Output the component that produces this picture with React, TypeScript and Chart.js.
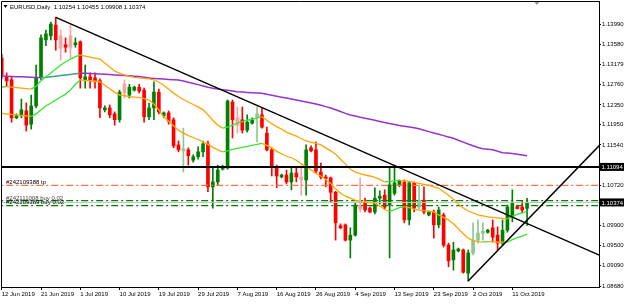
import React, { useEffect, useRef } from 'react';
import { Chart, registerables } from 'chart.js';

Chart.register(...registerables);

// ---------- data (EURUSD, Daily, bar 0 = 12 Jun 2019, broker feed with Sunday bars) ----------
const dateTickIndex = [0, 8, 16, 24, 32, 40, 48, 56, 64, 72, 80, 88, 96, 104];
const dateLabels = ['12 Jun 2019', '21 Jun 2019', '1 Jul 2019', '10 Jul 2019', '19 Jul 2019', '29 Jul 2019', '7 Aug 2019',
  '16 Aug 2019', '26 Aug 2019', '4 Sep 2019', '13 Sep 2019', '23 Sep 2019', '2 Oct 2019', '11 Oct 2019'];
const priceTicks = [1.1399, 1.1358, 1.13179, 1.1276, 1.1235, 1.1195, 1.1154, 1.1072, 1.099, 1.095, 1.0909, 1.0868];

const opens = [
  1.1330, 1.1292, 1.1286, 1.1209, 1.1213, 1.1223, 1.1196, 1.1233, 1.1292, 1.1367,
  1.1375, 1.1397, 1.1375, 1.1357, 1.1375, 1.1357, 1.1363, 1.1286, 1.1292, 1.1290,
  1.1284, 1.1225, 1.1229, 1.1217, 1.1205, 1.1277, 1.1255, 1.1265, 1.1271, 1.1265,
  1.1211, 1.1229, 1.1261, 1.1213, 1.1219, 1.1205, 1.1154, 1.1142, 1.1144, 1.1123,
  1.1130, 1.1140, 1.1156, 1.1069, 1.1079, 1.1105, 1.1107, 1.1241, 1.1209, 1.1205,
  1.1184, 1.1198, 1.1211, 1.1215, 1.1178, 1.1144, 1.1109, 1.1089, 1.1093, 1.1079,
  1.1097, 1.1089, 1.1083, 1.1148, 1.1144, 1.1099, 1.1089, 1.1087, 1.1058, 1.0990,
  1.0992, 1.0961, 1.0971, 1.1032, 1.1036, 1.1026, 1.1018, 1.1046, 1.1052, 1.1032,
  1.1056, 1.1073, 1.1079, 1.1002, 1.1077, 1.1028, 1.1042, 1.1012, 1.1018, 1.0992,
  1.1012, 1.0951, 1.0921, 1.0939, 1.0941, 1.0894, 1.0935, 1.0961, 1.0975, 1.0977,
  1.0986, 1.0971, 1.0955, 1.0981, 1.1008, 1.1029, 1.1028, 1.10254,
];
const highs = [
  1.1338, 1.1300, 1.1292, 1.1217, 1.1247, 1.1239, 1.1255, 1.1316, 1.1377, 1.1387,
  1.1403, 1.1413, 1.1387, 1.1371, 1.1397, 1.1371, 1.1365, 1.1316, 1.1300, 1.1300,
  1.1288, 1.1233, 1.1235, 1.1221, 1.1265, 1.1286, 1.1277, 1.1273, 1.1277, 1.1269,
  1.1239, 1.1282, 1.1267, 1.1221, 1.1223, 1.1209, 1.1162, 1.1188, 1.1148, 1.1134,
  1.1150, 1.1162, 1.1162, 1.1107, 1.1113, 1.1113, 1.1245, 1.1245, 1.1231, 1.1231,
  1.1215, 1.1209, 1.1231, 1.1229, 1.1190, 1.1148, 1.1113, 1.1095, 1.1103, 1.1107,
  1.1107, 1.1113, 1.1154, 1.1152, 1.1160, 1.1117, 1.1093, 1.1089, 1.1060, 1.0994,
  1.0994, 1.0986, 1.1036, 1.1087, 1.1046, 1.1028, 1.1067, 1.1061, 1.1063, 1.1109,
  1.1113, 1.1083, 1.1083, 1.1079, 1.1079, 1.1073, 1.1069, 1.1020, 1.1022, 1.1028,
  1.1016, 1.0955, 1.0957, 1.0945, 1.0943, 1.0941, 1.0996, 1.1002, 1.0996, 1.0983,
  1.1002, 1.0988, 1.1002, 1.1032, 1.1063, 1.1032, 1.1040, 1.10455,
];
const lows = [
  1.1288, 1.1273, 1.1200, 1.1207, 1.1209, 1.1182, 1.1186, 1.1229, 1.1286, 1.1355,
  1.1367, 1.1346, 1.1326, 1.1342, 1.1330, 1.1352, 1.1269, 1.1269, 1.1269, 1.1269,
  1.1209, 1.1221, 1.1209, 1.1194, 1.1200, 1.1249, 1.1249, 1.1263, 1.1259, 1.1200,
  1.1205, 1.1205, 1.1217, 1.1209, 1.1196, 1.1148, 1.1140, 1.1099, 1.1113, 1.1119,
  1.1125, 1.1130, 1.1059, 1.1026, 1.1073, 1.1103, 1.1105, 1.1168, 1.1178, 1.1178,
  1.1180, 1.1196, 1.1160, 1.1188, 1.1142, 1.1091, 1.1067, 1.1087, 1.1075, 1.1063,
  1.1079, 1.1052, 1.1052, 1.1140, 1.1097, 1.1085, 1.1069, 1.1038, 1.0961, 1.0984,
  1.0959, 1.0925, 1.0969, 1.1018, 1.1018, 1.1016, 1.1014, 1.1034, 1.1024, 1.0925,
  1.1052, 1.1069, 1.0996, 1.0992, 1.1018, 1.1024, 1.1014, 1.1010, 1.0965, 1.0986,
  1.0947, 1.0907, 1.0900, 1.0937, 1.0894, 1.0878, 1.0931, 1.0955, 1.0961, 1.0975,
  1.0957, 1.0941, 1.0951, 1.0977, 1.0998, 1.1024, 1.1016, 1.09908,
];
const closes = [
  1.1296, 1.1284, 1.1209, 1.1213, 1.1225, 1.1194, 1.1233, 1.1290, 1.1371, 1.1379,
  1.1399, 1.1367, 1.1350, 1.1352, 1.1352, 1.1361, 1.1290, 1.1292, 1.1286, 1.1282,
  1.1229, 1.1229, 1.1215, 1.1205, 1.1261, 1.1259, 1.1271, 1.1271, 1.1263, 1.1211,
  1.1229, 1.1261, 1.1221, 1.1219, 1.1202, 1.1152, 1.1144, 1.1146, 1.1132, 1.1130,
  1.1140, 1.1156, 1.1069, 1.1079, 1.1103, 1.1109, 1.1243, 1.1205, 1.1194, 1.1184,
  1.1200, 1.1205, 1.1217, 1.1190, 1.1144, 1.1109, 1.1091, 1.1093, 1.1079, 1.1097,
  1.1089, 1.1083, 1.1144, 1.1142, 1.1101, 1.1089, 1.1086, 1.1058, 1.0996, 1.0986,
  1.0961, 1.0971, 1.1032, 1.1024, 1.1022, 1.1018, 1.1046, 1.1050, 1.1028, 1.1073,
  1.1077, 1.1081, 1.1002, 1.1077, 1.1026, 1.1042, 1.1018, 1.1018, 1.0992, 1.1022,
  1.0951, 1.0919, 1.0941, 1.0943, 1.0896, 1.0935, 1.0961, 1.0975, 1.0979, 1.0981,
  1.0967, 1.0955, 1.0981, 1.1028, 1.1036, 1.1025, 1.1022, 1.10374,
];

// colour-changing moving averages (green while rising, orange while falling)
const upperMA = [
  1.1271, 1.1272, 1.1271, 1.1270, 1.1269, 1.1268, 1.1267, 1.1273, 1.1284, 1.1292,
  1.1300, 1.1308, 1.1316, 1.1322, 1.1328, 1.1333, 1.1336, 1.1334, 1.1332, 1.1330,
  1.1328, 1.1320, 1.1312, 1.1304, 1.1299, 1.1296, 1.1293, 1.1291, 1.1290, 1.1289,
  1.1288, 1.1286, 1.1281, 1.1275, 1.1267, 1.1259, 1.1252, 1.1246, 1.1241, 1.1236,
  1.1231, 1.1225, 1.1215, 1.1204, 1.1194, 1.1188, 1.1190, 1.1194, 1.1198, 1.1201,
  1.1204, 1.1206, 1.1209, 1.1211, 1.1204, 1.1197, 1.1191, 1.1186, 1.1180, 1.1176,
  1.1172, 1.1167, 1.1162, 1.1159, 1.1157, 1.1154, 1.1148, 1.1142, 1.1135, 1.1125,
  1.1115, 1.1105, 1.1099, 1.1096, 1.1093, 1.1091, 1.1088, 1.1084, 1.1079, 1.1080,
  1.1081, 1.1082, 1.1081, 1.1080, 1.1078, 1.1076, 1.1074, 1.1072, 1.1069, 1.1066,
  1.1059, 1.1052, 1.1044, 1.1034, 1.1026, 1.1020, 1.1016, 1.1012, 1.1010, 1.1008,
  1.1007, 1.1006, 1.1005, 1.1004, 1.1009, 1.1013, 1.1016, 1.1020,
];
const lowerMA = [
  1.1218, 1.1217, 1.1216, 1.1215, 1.1214, 1.1213, 1.1212, 1.1217, 1.1225, 1.1233,
  1.1239, 1.1245, 1.1251, 1.1257, 1.1265, 1.1277, 1.1286, 1.1285, 1.1284, 1.1283,
  1.1282, 1.1275, 1.1268, 1.1261, 1.1255, 1.1254, 1.1252, 1.1251, 1.1250, 1.1248,
  1.1245, 1.1237, 1.1225, 1.1211, 1.1202, 1.1193, 1.1184, 1.1178, 1.1173, 1.1169,
  1.1165, 1.1160, 1.1155, 1.1149, 1.1144, 1.1140, 1.1142, 1.1145, 1.1147, 1.1149,
  1.1151, 1.1153, 1.1155, 1.1157, 1.1153, 1.1148, 1.1141, 1.1136, 1.1131, 1.1128,
  1.1123, 1.1116, 1.1110, 1.1103, 1.1096, 1.1091, 1.1084, 1.1076, 1.1065, 1.1056,
  1.1050, 1.1046, 1.1042, 1.1039, 1.1038, 1.1037, 1.1036, 1.1030, 1.1023, 1.1019,
  1.1023, 1.1027, 1.1029, 1.1027, 1.1024, 1.1022, 1.1021, 1.1020, 1.1018, 1.1012,
  1.1007, 1.1002, 1.0994, 1.0984, 1.0974, 1.0965, 1.0960, 1.0958, 1.0957, 1.0958,
  1.0958, 1.0957, 1.0957, 1.0957, 1.0962, 1.0966, 1.0969, 1.0973,
];
// long moving average (purple while falling, teal while rising)
const longMA = [
  1.12936, 1.12932, 1.12928, 1.12924, 1.12920, 1.12916, 1.12912, 1.12908, 1.12906, 1.12910,
  1.12920, 1.12932, 1.12945, 1.12957, 1.12969, 1.12981, 1.12993, 1.12991, 1.12987, 1.12983,
  1.12977, 1.12971, 1.12965, 1.12959, 1.12953, 1.12947, 1.12941, 1.12934, 1.12926, 1.12912,
  1.12896, 1.12888, 1.12880, 1.12874, 1.12868, 1.12862, 1.12855, 1.12835, 1.12811, 1.12786,
  1.12762, 1.12734, 1.12707, 1.12687, 1.12673, 1.12659, 1.12647, 1.12632, 1.12618, 1.12612,
  1.12604, 1.12598, 1.12592, 1.12586, 1.12566, 1.12545, 1.12525, 1.12507, 1.12489, 1.12470,
  1.12450, 1.12430, 1.12409, 1.12389, 1.12369, 1.12343, 1.12316, 1.12288, 1.12253, 1.12217,
  1.12180, 1.12146, 1.12124, 1.12101, 1.12079, 1.12059, 1.12039, 1.12016, 1.11994, 1.11974,
  1.11953, 1.11935, 1.11919, 1.11903, 1.11887, 1.11866, 1.11838, 1.11809, 1.11781, 1.11755,
  1.11728, 1.11700, 1.11674, 1.11635, 1.11597, 1.11558, 1.11522, 1.11487, 1.11461, 1.11451,
  1.11441, 1.11412, 1.11382, 1.11376, 1.11368, 1.11353, 1.11337, 1.11321,
];

const downTrendX = [11, 122];
const downTrendY = [1.14126, 1.09294];
const upTrendX = [95, 122];
const upTrendY = [1.0878, 1.11558];
const levelPrice = 1.11094;
const orderPrices = [1.1072, 1.10409, 1.10311];
const orderLabels = ['#242109388 tp', '#242111008 buy 0.02', '#242109389 buy 0.02'];
const symbolTitle = 'EURUSD,Daily';

// ---------- styling ----------
const BULL = '#008000';
const BEAR = '#ff0000';
const BULL_LIGHT = '#8cc88c';
const BEAR_LIGHT = '#f7a3a3';
const lightBars = [12, 14, 25, 37, 48, 52, 61, 73, 85, 96, 97, 98];
const MA_UP = '#33e633';
const MA_DOWN = '#ffa500';
const LONG_DOWN = '#9932cc';
const LONG_UP = '#3f9f86';
const FONT = '"Liberation Sans", Arial, sans-serif';

const pts = (vals: number[]) => vals.map((v, i) => ({ x: i, y: v }));
const X_MIN = -0.15;
const X_MAX = 121.65;
const hline = (v: number) => [{ x: X_MIN - 2, y: v }, { x: X_MAX + 2, y: v }];

const extras = {
  id: 'mt4Extras',
  afterDatasetsDraw(chart: any) {
    const { ctx, chartArea: a, scales } = chart;
    const y = scales.y;
    const x = scales.x;
    ctx.save();
    // frame
    ctx.strokeStyle = '#000';
    ctx.lineWidth = 1;
    ctx.beginPath();
    ctx.moveTo(a.left + 0.5, a.bottom);
    ctx.lineTo(a.left + 0.5, a.top + 0.5);
    ctx.lineTo(a.right, a.top + 0.5);
    ctx.stroke();
    // order labels
    ctx.font = `6px ${FONT}`;
    ctx.textAlign = 'left';
    ctx.textBaseline = 'alphabetic';
    orderLabels.forEach((t, k) => {
      ctx.fillStyle = k === 1 ? '#444' : '#000';
      ctx.fillText(t, a.left + 5, y.getPixelForValue(orderPrices[k]) - 1.2);
    });
    // title
    const n = opens.length - 1;
    const title = `${symbolTitle}  ${opens[n].toFixed(5)} ${highs[n].toFixed(5)} ${lows[n].toFixed(5)} ${closes[n].toFixed(5)}`;
    ctx.fillStyle = '#000';
    ctx.beginPath();
    ctx.moveTo(a.left + 2.5, a.top + 4);
    ctx.lineTo(a.left + 6.5, a.top + 4);
    ctx.lineTo(a.left + 4.5, a.top + 7);
    ctx.closePath();
    ctx.fill();
    ctx.fillText(title, a.left + 9, a.top + 7.5);
    // chart shift marker
    const sx = x.getPixelForValue(opens.length + 1);
    ctx.fillStyle = '#999';
    ctx.beginPath();
    ctx.moveTo(sx - 2.5, a.top + 1);
    ctx.lineTo(sx + 2.5, a.top + 1);
    ctx.lineTo(sx, a.top + 4);
    ctx.closePath();
    ctx.fill();
    ctx.restore();
  },
  afterDraw(chart: any) {
    const { ctx, chartArea: a, scales } = chart;
    const y = scales.y;
    ctx.save();
    ctx.font = `6px ${FONT}`;
    ctx.textAlign = 'left';
    ctx.textBaseline = 'middle';
    [levelPrice, closes[closes.length - 1]].forEach((p) => {
      const py = y.getPixelForValue(p);
      ctx.fillStyle = '#000';
      ctx.fillRect(a.right + 1, py - 4, 24, 8);
      ctx.fillStyle = '#fff';
      ctx.fillText(p.toFixed(5), a.right + 2.5, py + 0.5);
    });
    ctx.restore();
  },
};

export default function App() {
  const ref = useRef<HTMLCanvasElement>(null);
  useEffect(() => {
    if (!ref.current) return;
    const candleColors = opens.map((o, i) => {
      const up = closes[i] >= o;
      const light = lightBars.includes(i);
      return up ? (light ? BULL_LIGHT : BULL) : (light ? BEAR_LIGHT : BEAR);
    });
    const chart = new Chart(ref.current, {
      type: 'bar',
      data: {
        datasets: [
          { type: 'line', data: upTrendX.map((v, i) => ({ x: v, y: upTrendY[i] })), borderColor: '#000', borderWidth: 1.5, pointRadius: 0 },
          { type: 'line', data: downTrendX.map((v, i) => ({ x: v, y: downTrendY[i] })), borderColor: '#000', borderWidth: 1.5, pointRadius: 0 },
          { type: 'line', data: hline(levelPrice), borderColor: '#000', borderWidth: 2, pointRadius: 0 },
          {
            type: 'line', data: pts(upperMA), borderWidth: 1.3, pointRadius: 0, borderColor: MA_DOWN,
            segment: { borderColor: (c: any) => (c.p1.parsed.y > c.p0.parsed.y ? MA_UP : MA_DOWN) },
          },
          {
            type: 'line', data: pts(lowerMA), borderWidth: 1.3, pointRadius: 0, borderColor: MA_DOWN,
            segment: { borderColor: (c: any) => (c.p1.parsed.y > c.p0.parsed.y ? MA_UP : MA_DOWN) },
          },
          {
            type: 'line', data: pts(longMA), borderWidth: 1.5, pointRadius: 0, borderColor: LONG_DOWN,
            segment: { borderColor: (c: any) => (c.p1.parsed.y > c.p0.parsed.y ? LONG_UP : LONG_DOWN) },
          },
          { type: 'line', data: hline(orderPrices[0]), borderColor: '#ff7043', borderWidth: 1.2, borderDash: [7, 3, 2, 3], pointRadius: 0 },
          { type: 'line', data: hline(orderPrices[1]), borderColor: '#008000', borderWidth: 1.2, borderDash: [7, 3, 2, 3], pointRadius: 0 },
          { type: 'line', data: hline(orderPrices[2]), borderColor: '#008000', borderWidth: 1.2, borderDash: [7, 3, 2, 3], pointRadius: 0 },
          { type: 'line', data: hline(closes[closes.length - 1]), borderColor: '#c0c0c0', borderWidth: 1, pointRadius: 0 },
          {
            type: 'bar', data: opens.map((o, i) => ({ x: i, y: [o, closes[i]] })) as any,
            backgroundColor: candleColors, barThickness: 3, grouped: false, minBarLength: 1, borderWidth: 0,
          },
          {
            type: 'bar', data: lows.map((l, i) => ({ x: i, y: [l, highs[i]] })) as any,
            backgroundColor: candleColors, barThickness: 1, grouped: false, borderWidth: 0,
          },
        ] as any,
      },
      options: {
        responsive: false,
        devicePixelRatio: 1,
        animation: false,
        layout: { padding: { top: 1, left: 1, right: 0, bottom: 0 } },
        plugins: { legend: { display: false }, tooltip: { enabled: false } },
        scales: {
          x: {
            type: 'linear',
            min: X_MIN,
            max: X_MAX,
            offset: false,
            afterBuildTicks: (s: any) => { s.ticks = dateTickIndex.map((v) => ({ value: v })); },
            afterFit: (s: any) => { s.height = 18; s.paddingLeft = 0; s.paddingRight = 0; },
            grid: { offset: false, drawOnChartArea: false, drawTicks: true, tickLength: 3, color: '#000' },
            border: { display: true, color: '#000', width: 1 },
            ticks: {
              autoSkip: false, maxRotation: 0, minRotation: 0, align: 'start', padding: 1,
              color: '#000', font: { family: FONT, size: 6 },
              callback: (v: any) => { const k = dateTickIndex.indexOf(Number(v)); return k >= 0 ? dateLabels[k] : ''; },
            },
          },
          y: {
            type: 'linear',
            position: 'right',
            min: 1.0866,
            max: 1.14457,
            afterBuildTicks: (s: any) => { s.ticks = priceTicks.map((v) => ({ value: v })); },
            afterFit: (s: any) => { s.width = 26; s.paddingTop = 0; s.paddingBottom = 0; },
            grid: { drawOnChartArea: false, drawTicks: true, tickLength: 2, color: '#000' },
            border: { display: true, color: '#000', width: 1 },
            ticks: {
              autoSkip: false, padding: 1, color: '#000', font: { family: FONT, size: 6 },
              callback: (v: any) => Number(v).toFixed(5),
            },
          },
        },
      } as any,
      plugins: [extras],
    });
    return () => chart.destroy();
  }, []);
  return (
    <div style={{ position: 'fixed', left: 0, top: 0, width: 625, height: 305, background: '#fff' }}>
      <canvas ref={ref} width={625} height={305} style={{ display: 'block', width: 625, height: 305 }} />
    </div>
  );
}
